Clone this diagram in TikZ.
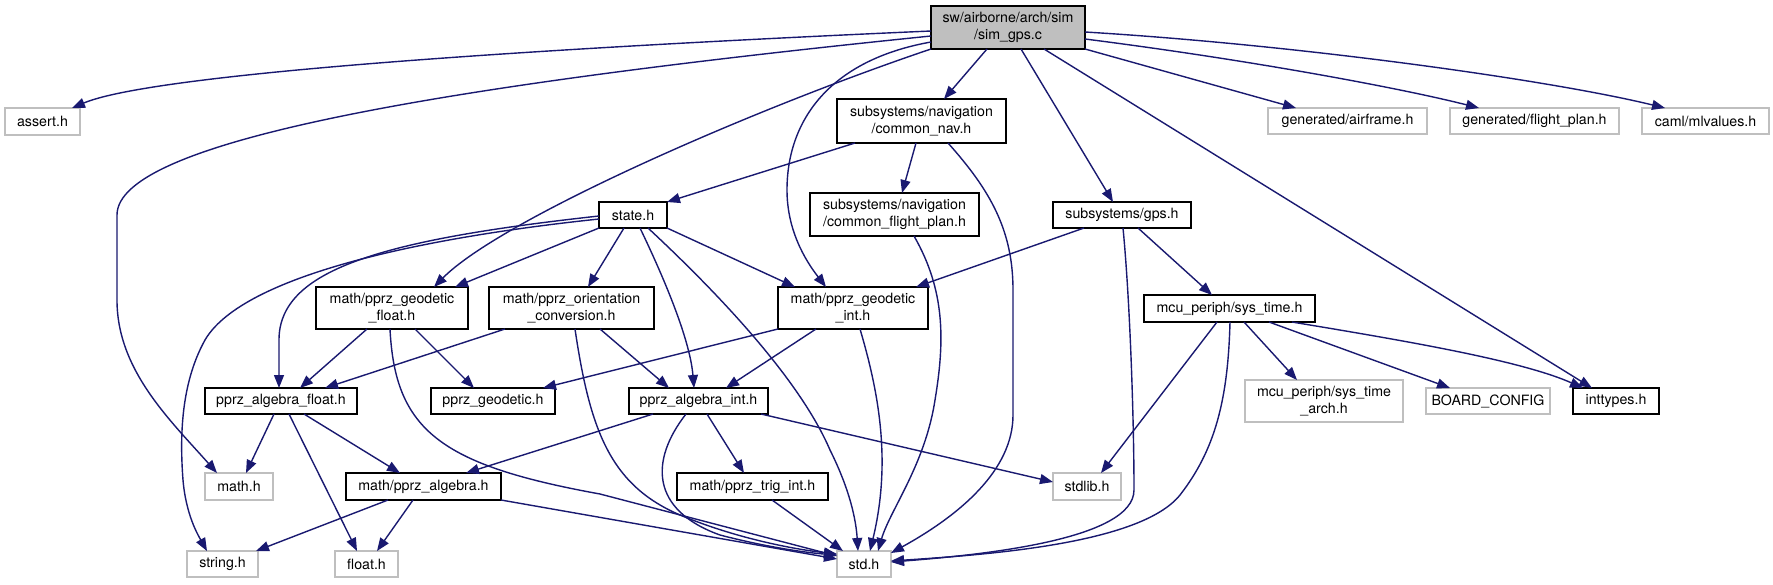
\documentclass[tikz,border=0pt]{standalone}
\usepackage{fontspec}
\setmainfont{TeX Gyre Heros}
\usetikzlibrary{arrows.meta}
\definecolor{edgec}{HTML}{191970}
\definecolor{grayb}{HTML}{BFBFBF}
\newcommand\mknode[7]{\node[#2,minimum width={(#5-#3)*0.5pt},minimum height={(#6-#4)*0.5pt}] (#1) at ({(#3+#5)/2},{(#4+#6)/2}) {#7};}
\tikzset{
  boxbase/.style={inner sep=0pt, outer sep=0pt, align=center, line width=0.7pt, font=\fontsize{7.1}{8.2}\selectfont},
  blk/.style={boxbase, draw=black, fill=white},
  gry/.style={boxbase, draw=grayb, fill=white},
  rootbox/.style={boxbase, draw=black, fill=grayb},
  edg/.style={draw=edgec, line width=0.7pt, -{Triangle[length=6.5pt,width=5pt]}}
}
\begin{document}
\begin{tikzpicture}[x=0.5pt,y=-0.5pt]
\useasboundingbox (0,0) rectangle (1773,584);
\fill[white] (0,0) rectangle (1773,584);
% nodes
\mknode{sim}{rootbox}{931}{6}{1085}{49}{sw/airborne/arch/sim\\/sim\_gps.c}
\mknode{assert}{gry}{5}{108}{80}{135}{assert.h}
\mknode{airframe}{gry}{1268}{108}{1427}{134}{generated/airframe.h}
\mknode{flightplan}{gry}{1450}{108}{1619}{134}{generated/flight\_plan.h}
\mknode{mlvalues}{gry}{1642}{108}{1769}{134}{caml/mlvalues.h}
\mknode{commonnav}{blk}{837}{99}{1006}{143}{subsystems/navigation\\/common\_nav.h}
\mknode{state}{blk}{599}{202}{667}{228}{state.h}
\mknode{cfp}{blk}{810}{193}{979}{236}{subsystems/navigation\\/common\_flight\_plan.h}
\mknode{gps}{blk}{1053}{202}{1191}{228}{subsystems/gps.h}
\mknode{geofloat}{blk}{316}{287}{468}{329}{math/pprz\_geodetic\\\_float.h}
\mknode{orient}{blk}{489}{287}{654}{329}{math/pprz\_orientation\\\_conversion.h}
\mknode{geoint}{blk}{778}{287}{928}{329}{math/pprz\_geodetic\\\_int.h}
\mknode{systime}{blk}{1144}{295}{1315}{322}{mcu\_periph/sys\_time.h}
\mknode{algfloat}{blk}{205}{388}{357}{414}{pprz\_algebra\_float.h}
\mknode{geodetic}{blk}{431}{388}{555}{414}{pprz\_geodetic.h}
\mknode{algint}{blk}{629}{388}{768}{414}{pprz\_algebra\_int.h}
\mknode{sta}{gry}{1245}{380}{1403}{422}{mcu\_periph/sys\_time\\\_arch.h}
\mknode{board}{gry}{1426}{388}{1550}{414}{BOARD\_CONFIG}
\mknode{inttypes}{blk}{1573}{388}{1659}{414}{inttypes.h}
\mknode{math}{gry}{205}{473}{273}{500}{math.h}
\mknode{alg}{blk}{346}{473}{501}{500}{math/pprz\_algebra.h}
\mknode{trig}{blk}{677}{473}{828}{500}{math/pprz\_trig\_int.h}
\mknode{stdlib}{gry}{1053}{473}{1121}{500}{stdlib.h}
\mknode{string}{gry}{187}{551}{258}{577}{string.h}
\mknode{float}{gry}{335}{551}{398}{577}{float.h}
\mknode{std}{gry}{837}{551}{891}{577}{std.h}
% edges from sim
\draw[edg] (sim.west |- 0,31) .. controls (500,50) and (150,75) .. (assert.north -| 72,0);
\draw[edg] (sim.west |- 0,36) .. controls (450,85) and (117,140) .. (117,215) -- (117,300) .. controls (117,370) and (170,420) .. (math.north -| 217,0);
\draw[edg] (sim.south west) .. controls (750,110) and (500,220) .. (geofloat.north -| 434,0);
\draw[edg] (sim.south -| 987,0) -- (commonnav.north -| 944,0);
\draw[edg] (sim.west |- 0,42) .. controls (830,60) and (787,120) .. (787,190) .. controls (787,230) and (805,260) .. (geoint.north -| 826,0);
\draw[edg] (sim.south -| 1021,0) -- (gps.north -| 1113,0);
\draw[edg] (sim.south east) -- (airframe.north -| 1296,0);
\draw[edg] (sim.east |- 0,39) .. controls (1250,60) and (1400,88) .. (flightplan.north -| 1479,0);
\draw[edg] (sim.east |- 0,32) .. controls (1300,45) and (1550,80) .. (mlvalues.north -| 1665,0);
\draw[edg] (sim.south -| 1044,0) -- (inttypes.north -| 1592,0);
% common_nav
\draw[edg] (commonnav.south -| 855,0) -- (state.north east);
\draw[edg] (commonnav.south -| 916,0) -- (cfp.north -| 902,0);
\draw[edg] (commonnav.south -| 948,0) .. controls (990,190) and (1013,230) .. (1013,290) -- (1013,415) .. controls (1013,470) and (960,515) .. (std.east |- 0,553);
% state
\draw[edg] (state.south west) -- (geofloat.north -| 455,0);
\draw[edg] (state.south -| 624,0) -- (orient.north -| 588,0);
\draw[edg] (state.south east) -- (geoint.north -| 795,0);
\draw[edg] (state.south -| 640,0) .. controls (665,280) and (690,340) .. (algint.north -| 694,0);
\draw[edg] (state.south -| 648,0) .. controls (720,295) and (800,380) .. (830,450) .. controls (850,490) and (856,520) .. (std.north -| 858,0);
\draw[edg] (state.west |- 0,216) .. controls (380,240) and (279,270) .. (279,340) -- (algfloat.north -| 279,0);
\draw[edg] (state.west |- 0,219) .. controls (400,240) and (240,280) .. (205,340) .. controls (180,385) and (180,440) .. (183,480) .. controls (186,515) and (198,535) .. (string.north -| 207,0);
% common_flight_plan
\draw[edg] (cfp.south -| 914,0) .. controls (945,290) and (945,340) .. (935,400) .. controls (925,465) and (890,510) .. (std.north -| 878,0);
% gps
\draw[edg] (gps.south -| 1084,0) -- (geoint.north -| 916,0);
\draw[edg] (gps.south -| 1138,0) -- (systime.north -| 1212,0);
\draw[edg] (gps.south -| 1123,0) .. controls (1130,300) and (1134,420) .. (1134,490) .. controls (1134,540) and (980,555) .. (std.east |- 0,562);
% geodetic float
\draw[edg] (geofloat.south -| 367,0) -- (algfloat.north -| 300,0);
\draw[edg] (geofloat.south -| 415,0) -- (geodetic.north -| 474,0);
\draw[edg] (geofloat.south -| 390,0) .. controls (395,430) and (440,465) .. (600,494) -- (std.west |- 0,556);
% orientation
\draw[edg] (orient.south -| 505,0) -- (algfloat.north -| 325,0);
\draw[edg] (orient.south -| 600,0) -- (algint.north -| 669,0);
\draw[edg] (orient.south -| 575,0) .. controls (590,430) and (610,485) .. (680,515) .. controls (740,540) and (800,550) .. (std.west |- 0,554);
% geodetic int
\draw[edg] (geoint.south west) -- (geodetic.north -| 543,0);
\draw[edg] (geoint.south -| 816,0) -- (algint.north -| 726,0);
\draw[edg] (geoint.south -| 860,0) .. controls (878,390) and (892,460) .. (std.north -| 870,0);
% sys_time
\draw[edg] (systime.south -| 1217,0) -- (stdlib.north -| 1101,0);
\draw[edg] (systime.south -| 1230,0) .. controls (1228,400) and (1215,450) .. (1180,495) .. controls (1140,545) and (980,555) .. (std.east |- 0,561);
\draw[edg] (systime.south -| 1244,0) -- (sta.north -| 1297,0);
\draw[edg] (systime.south -| 1269,0) -- (board.north -| 1450,0);
\draw[edg] (systime.south -| 1292,0) .. controls (1400,340) and (1520,360) .. (inttypes.north -| 1583,0);
% algebra float
\draw[edg] (algfloat.south -| 274,0) -- (math.north -| 246,0);
\draw[edg] (algfloat.south -| 289,0) -- (float.north -| 357,0);
\draw[edg] (algfloat.south -| 304,0) -- (alg.north -| 400,0);
% algebra int
\draw[edg] (algint.south -| 653,0) -- (alg.north -| 466,0);
\draw[edg] (algint.south -| 686,0) .. controls (650,460) and (650,510) .. (720,535) .. controls (770,548) and (810,553) .. (std.west |- 0,555);
\draw[edg] (algint.south -| 707,0) -- (trig.north -| 744,0);
\draw[edg] (algint.south -| 761,0) -- (stdlib.west |- 0,482);
% algebra
\draw[edg] (alg.south -| 388,0) -- (string.north -| 256,0);
\draw[edg] (alg.south -| 413,0) -- (float.north -| 377,0);
\draw[edg] (alg.south east) -- (std.west |- 0,559);
% trig
\draw[edg] (trig.south -| 772,0) -- (std.north -| 843,0);
\end{tikzpicture}
\end{document}
